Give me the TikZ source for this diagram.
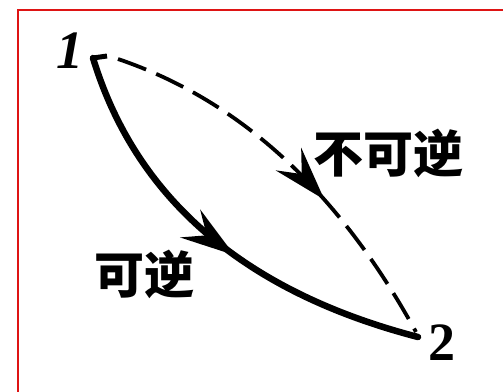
\documentclass[tikz,border=0pt]{standalone}
\usepackage{fontspec}
\setmainfont{Liberation Serif}
\newfontfamily\cjk{Noto Sans CJK SC}
\usetikzlibrary{arrows.meta,decorations.markings}
\definecolor{frame}{RGB}{222,20,20}
\tikzset{
  bighead/.tip={Stealth[length=54pt,width=34pt,inset=20pt]},
  lbl/.style={inner sep=0pt, font=\fontsize{54}{54}\selectfont\bfseries},
  cjklbl/.style={inner sep=0pt, font=\fontsize{50}{50}\selectfont\cjk\bfseries},
  revpath/.style={line width=6.5pt, line cap=round,
    postaction={decorate, decoration={markings, mark=at position 0.55 with {\arrow{bighead}}}}},
  irrpath/.style={line width=3.8pt, dash pattern=on 30pt off 11pt,
    postaction={decorate, decoration={markings, mark=at position 0.61 with {\arrow[solid]{bighead}}}}}
}
\begin{document}
\begin{tikzpicture}[x=1pt,y=-1pt]
\clip (0,0) rectangle (503,391);
\fill[white] (0,0) rectangle (503,391);
\draw[frame, line width=2.2pt] (18,10) rectangle (540,420);
% points
\coordinate (p1) at (93,58);
\coordinate (p1h) at (107,56);
\coordinate (q1) at (118,59);
\coordinate (p2) at (418,337);
\coordinate (q2) at (416,332);
% labels
\node[lbl] (n1) at (70,51) {\textit{1}};
\node[lbl] (n2) at (442,343) {2};
\node[cjklbl] (irr) at (388,153) {不可逆};
\node[cjklbl] (rev) at (144,274) {可逆};
% reversible (solid)
\draw[line width=5pt] (p1h) -- (p1);
\draw[revpath] (p1) .. controls (136,199) and (245,292) .. (p2);
% irreversible (dashed)
\draw[irrpath] (q1) .. controls (239,100) and (338,190) .. (q2);
\end{tikzpicture}
\end{document}
